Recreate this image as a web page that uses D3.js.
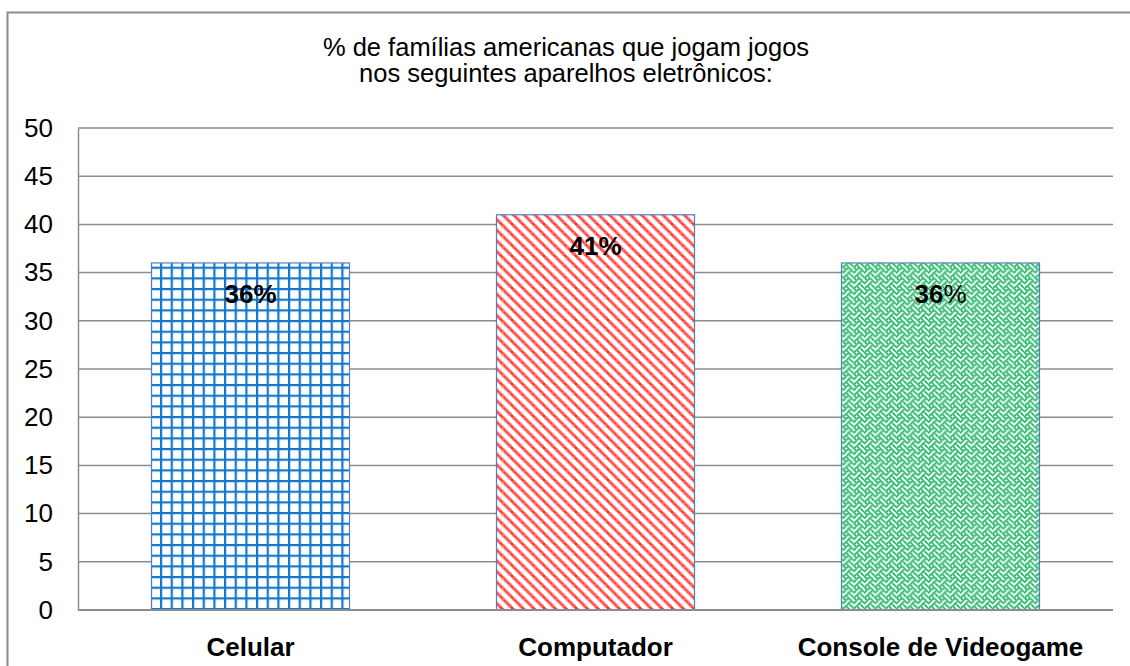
<!DOCTYPE html>
<html><head><meta charset="utf-8">
<script src="https://cdn.jsdelivr.net/npm/d3@7"></script>
<style>body{margin:0;background:#fff;} svg{display:block;font-family:Arial,"Liberation Sans",sans-serif;}</style>
</head><body>
<svg id="c" width="1130" height="666"></svg>
<script>
const categories = ["Celular", "Computador", "Console de Videogame"];
const values = [36, 41, 36];
const labels = ["36%", "41%", "36%"];
const yTicks = [0, 5, 10, 15, 20, 25, 30, 35, 40, 45, 50];
const titleLines = ["% de famílias americanas que jogam jogos", "nos seguintes aparelhos eletrônicos:"];

const svg = d3.select("#c");
const defs = svg.append("defs");
const S = 4/3, P = 8*S;

function bitmapPattern(id, bits, color, grow) {
  const p = defs.append("pattern").attr("id",id).attr("patternUnits","userSpaceOnUse").attr("width",P).attr("height",P);
  p.append("rect").attr("width",P).attr("height",P).attr("fill","#fff");
  bits.forEach((row,r)=>{ for(let c=0;c<8;c++){ if(row & (0x80>>c)) {
    for (const dx of [0,-P,P]) for (const dy of [0,-P,P])
      p.append("rect").attr("x",c*S+dx-grow/2).attr("y",r*S+dy-grow/2).attr("width",S+grow).attr("height",S+grow).attr("fill",color);
  }}});
}
// grid pattern (blue)
const pg = defs.append("pattern").attr("id","pGrid").attr("patternUnits","userSpaceOnUse").attr("width",P).attr("height",P);
pg.append("rect").attr("width",P).attr("height",P).attr("fill","#fff");
pg.append("rect").attr("x",0).attr("y",0).attr("width",2.2).attr("height",P).attr("fill","#1577cc");
pg.append("rect").attr("x",0).attr("y",0).attr("width",P).attr("height",2.2).attr("fill","#1577cc");
bitmapPattern("pDiag", [0xc1,0xe0,0x70,0x38,0x1c,0x0e,0x07,0x83], "#ff2a2a", 0);
bitmapPattern("pWeave", [0x88,0x54,0x22,0x45,0x88,0x14,0x22,0x51], "#18b060", 0.5);
const fills = ["url(#pGrid)","url(#pDiag)","url(#pWeave)"];

// outer border
svg.append("rect").attr("x",7.5).attr("y",12.5).attr("width",1140).attr("height",700).attr("fill","none").attr("stroke","#8c8c8c").attr("stroke-width",2);

const L=78, R=1113, T=128, B=610;
const x = d3.scaleBand().domain(categories).range([L,R]).paddingInner(0.426).paddingOuter(0.213);
const y = d3.scaleLinear().domain([0,50]).range([B,T]);

// gridlines
svg.append("g").selectAll("line").data(yTicks).join("line")
  .attr("x1",L).attr("x2",R).attr("y1",d=>y(d)).attr("y2",d=>y(d))
  .attr("stroke","#8c8c8c").attr("stroke-width",1.5);

// y axis
const ya = svg.append("g").attr("transform",`translate(${L},0)`)
  .call(d3.axisLeft(y).tickValues(yTicks).tickSize(0).tickPadding(25));
ya.select(".domain").attr("stroke","#8c8c8c").attr("stroke-width",1.5);
ya.selectAll("text").attr("font-size",26).attr("fill","#000").attr("font-family","Arial, 'Liberation Sans', sans-serif");

// bars
svg.append("g").selectAll("rect").data(values).join("rect")
  .attr("x",(d,i)=>x(categories[i])).attr("width",x.bandwidth())
  .attr("y",d=>y(d)).attr("height",d=>B-y(d))
  .attr("fill",(d,i)=>fills[i]).attr("stroke","#4f81bd").attr("stroke-width",1.2);

// zero line on top
svg.append("line").attr("x1",L).attr("x2",R).attr("y1",B).attr("y2",B).attr("stroke","#8c8c8c").attr("stroke-width",2);

// value labels
const vl = svg.append("g").selectAll("text").data(values).join("text")
  .attr("x",(d,i)=>x(categories[i])+x.bandwidth()/2).attr("y",d=>y(d)+40)
  .attr("text-anchor","middle").attr("font-size",26).attr("fill","#000");
vl.append("tspan").attr("font-weight","bold").text((d,i)=>labels[i].replace("%",""));
vl.append("tspan").attr("font-weight",(d,i)=>i===2?"normal":"bold").text("%");

// category labels
svg.append("g").selectAll("text").data(categories).join("text")
  .attr("x",d=>x(d)+x.bandwidth()/2).attr("y",656)
  .attr("text-anchor","middle").attr("font-size",26).attr("font-weight","bold").attr("fill","#000")
  .text(d=>d);

// title
svg.append("g").selectAll("text").data(titleLines).join("text")
  .attr("x",566).attr("y",(d,i)=>56+i*26).attr("text-anchor","middle")
  .attr("font-size",25.5).attr("fill","#000").text(d=>d);
</script>
</body></html>
